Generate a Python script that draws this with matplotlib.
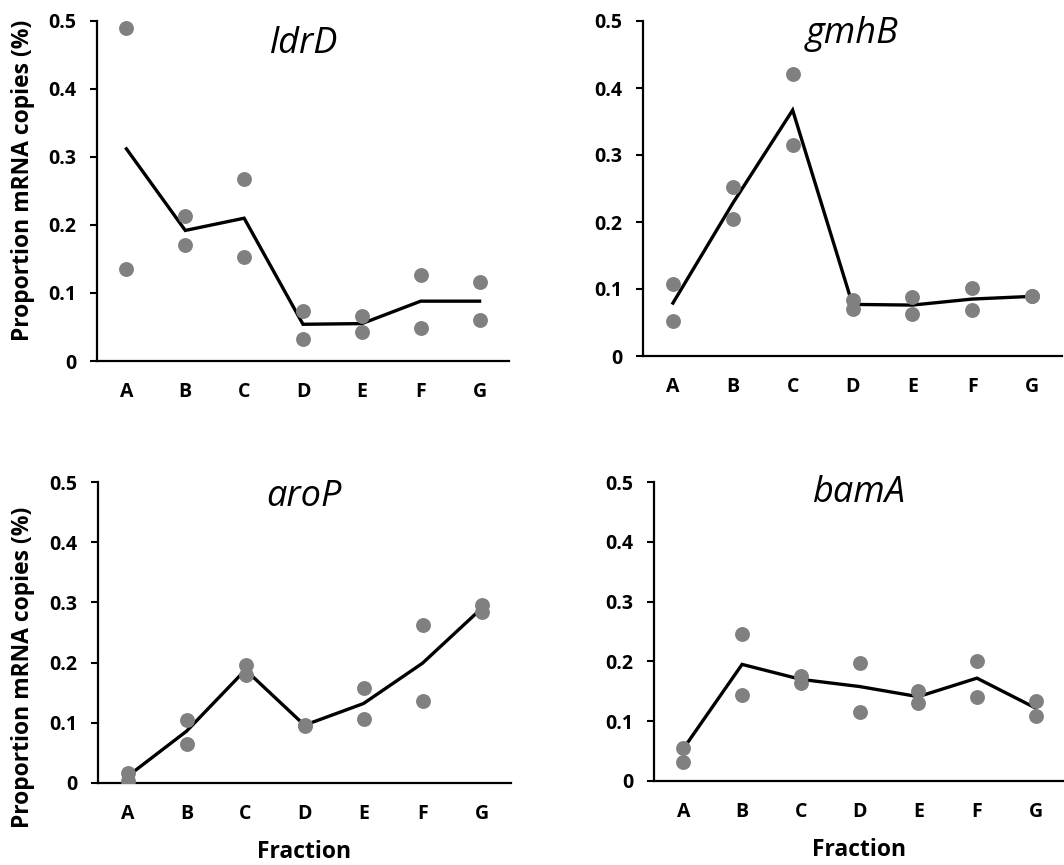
import numpy as np
import matplotlib
matplotlib.use("Agg")
import matplotlib.pyplot as plt

plt.rcParams['font.family'] = ['Open Sans', 'DejaVu Sans']

fractions = ['A', 'B', 'C', 'D', 'E', 'F', 'G']
genes = ['ldrD', 'gmhB', 'aroP', 'bamA']

# two replicate measurements per fraction + the plotted average line
ldrD_rep1 = [0.489, 0.213, 0.267, 0.074, 0.066, 0.127, 0.116]
ldrD_rep2 = [0.135, 0.171, 0.153, 0.032, 0.043, 0.048, 0.061]
ldrD_line = [0.312, 0.192, 0.210, 0.054, 0.055, 0.088, 0.088]

gmhB_rep1 = [0.107, 0.252, 0.421, 0.084, 0.088, 0.101, 0.089]
gmhB_rep2 = [0.052, 0.204, 0.315, 0.070, 0.063, 0.069, 0.089]
gmhB_line = [0.079, 0.228, 0.367, 0.077, 0.076, 0.085, 0.089]

aroP_rep1 = [0.017, 0.104, 0.196, 0.097, 0.157, 0.262, 0.295]
aroP_rep2 = [0.004, 0.065, 0.180, 0.095, 0.106, 0.137, 0.284]
aroP_line = [0.011, 0.086, 0.188, 0.096, 0.132, 0.199, 0.290]

bamA_rep1 = [0.056, 0.246, 0.176, 0.197, 0.151, 0.201, 0.133]
bamA_rep2 = [0.031, 0.143, 0.164, 0.116, 0.131, 0.140, 0.108]
bamA_line = [0.054, 0.195, 0.170, 0.158, 0.141, 0.172, 0.122]

panels = [
    (ldrD_rep1, ldrD_rep2, ldrD_line),
    (gmhB_rep1, gmhB_rep2, gmhB_line),
    (aroP_rep1, aroP_rep2, aroP_line),
    (bamA_rep1, bamA_rep2, bamA_line),
]

W, H = 1064, 865
fig = plt.figure(figsize=(W / 100, H / 100), dpi=100)

# axes boxes in pixels: left, top, right, bottom
boxes = [(97, 21, 509, 361), (643, 21, 1062, 356),
         (98, 482, 511, 783), (654, 482, 1065, 781)]
title_y = [0.906, 0.933, 0.919, 0.932]
ylabel_y = [0.53, None, 0.385, None]

x = np.arange(len(fractions))
for i, (gene, (r1, r2, avg)) in enumerate(zip(genes, panels)):
    l, t, r, b = boxes[i]
    ax = fig.add_axes([l / W, 1 - b / H, (r - l) / W, (b - t) / H])
    ax.plot(x, avg, color='black', lw=2.4, zorder=2, solid_joinstyle='miter')
    ax.scatter(x, r1, s=115, color='#808080', zorder=3, linewidths=0)
    ax.scatter(x, r2, s=115, color='#808080', zorder=3, linewidths=0)

    ax.set_xlim(-0.5, 6.5)
    ax.set_ylim(0, 0.5)
    ax.set_xticks(x)
    ax.set_xticklabels(fractions, fontsize=14, fontweight='bold')
    ax.set_yticks([0, 0.1, 0.2, 0.3, 0.4, 0.5])
    ax.set_yticklabels(['0', '0.1', '0.2', '0.3', '0.4', '0.5'],
                       fontsize=14, fontweight='bold')
    ax.tick_params(axis='x', length=0, pad=15)
    ax.tick_params(axis='y', direction='out', length=5, width=1.5, pad=10)
    for side in ['top', 'right']:
        ax.spines[side].set_visible(False)
    for side in ['left', 'bottom']:
        ax.spines[side].set_linewidth(1.6)

    ax.text(0.5, title_y[i], gene, transform=ax.transAxes, ha='center',
            va='baseline', fontsize=26, fontstyle='italic')

    if i % 2 == 0:
        ax.set_ylabel('Proportion mRNA copies (%)', fontsize=16.5,
                      fontweight='bold')
        ax.yaxis.set_label_coords((35 - l) / (r - l), ylabel_y[i])
    if i >= 2:
        ax.set_xlabel('Fraction', fontsize=16.5, fontweight='bold', labelpad=12)

fig.savefig('out.png', dpi=100)
